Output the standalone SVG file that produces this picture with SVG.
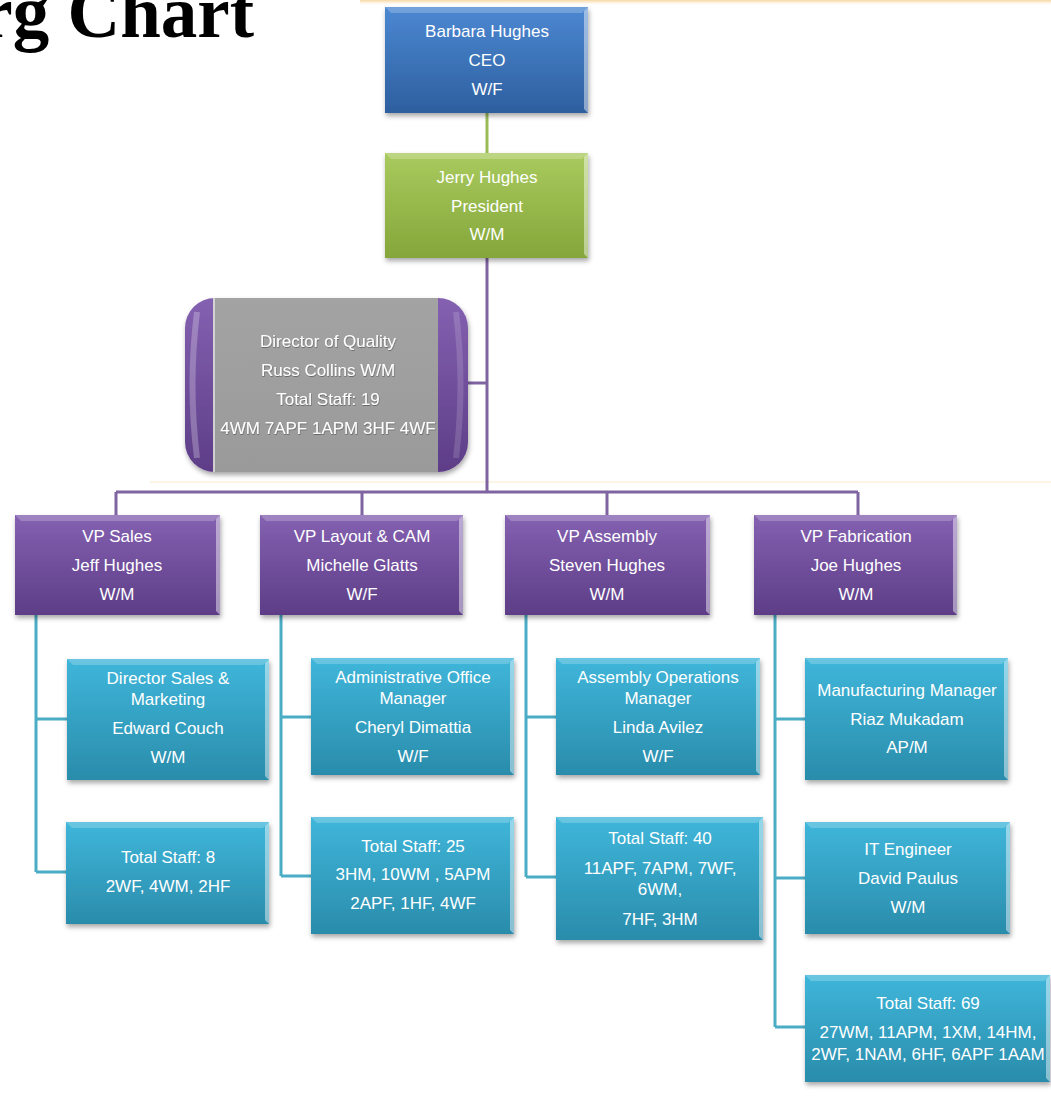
<svg xmlns="http://www.w3.org/2000/svg" width="1051" height="1112" viewBox="0 0 1051 1112">
<defs>
  <linearGradient id="gBlue" x1="0" y1="0" x2="0" y2="1"><stop offset="0" stop-color="#4c88d2"/><stop offset="1" stop-color="#2d5f9f"/></linearGradient>
  <linearGradient id="gGreen" x1="0" y1="0" x2="0" y2="1"><stop offset="0" stop-color="#a9ca5e"/><stop offset="1" stop-color="#84a63a"/></linearGradient>
  <linearGradient id="gPurple" x1="0" y1="0" x2="0" y2="1"><stop offset="0" stop-color="#8461b1"/><stop offset="1" stop-color="#5d3d87"/></linearGradient>
  <linearGradient id="gCyan" x1="0" y1="0" x2="0" y2="1"><stop offset="0" stop-color="#3fb6da"/><stop offset="1" stop-color="#2a8cab"/></linearGradient>
  <linearGradient id="gGray" x1="0" y1="0" x2="0" y2="1"><stop offset="0" stop-color="#a3a3a3"/><stop offset="1" stop-color="#9a9a9a"/></linearGradient>
  <linearGradient id="gStrip" x1="0" y1="0" x2="0" y2="1"><stop offset="0" stop-color="#f3c47a" stop-opacity="0.7"/><stop offset="1" stop-color="#fbe7c4" stop-opacity="0"/></linearGradient>
  <filter id="shadow" x="-10%" y="-10%" width="125%" height="130%">
    <feDropShadow dx="1" dy="3" stdDeviation="2.5" flood-color="#000" flood-opacity="0.35"/>
  </filter>
  <filter id="tshadow" x="-5%" y="-20%" width="110%" height="150%">
    <feDropShadow dx="0.5" dy="1" stdDeviation="0.6" flood-color="#000" flood-opacity="0.35"/>
  </filter>
</defs>
<style>
  .lbl { font-family: "Liberation Sans", Arial, sans-serif; font-size: 17px; fill: #ffffff; text-anchor: middle; }
  .dark { filter: url(#tshadow); }
  .title { font-family: "Liberation Serif", "Times New Roman", serif; font-weight: bold; font-size: 73px; fill: #000; text-anchor: end; }
  .bevT { fill: #ffffff; fill-opacity: 0.22; }
  .bevR { fill: #ffffff; fill-opacity: 0.45; }
  .cg { stroke: #9bbb59; stroke-width: 3; fill: none; }
  .cp { stroke: #8064a2; stroke-width: 3; fill: none; }
  .cc { stroke: #4bacc6; stroke-width: 3; fill: none; }
</style>
<rect x="0" y="0" width="1051" height="1112" fill="#ffffff"/>
<rect x="360" y="0" width="691" height="5" fill="url(#gStrip)"/>
<line x1="150" y1="482" x2="1051" y2="482" stroke="#fbf1dc" stroke-width="1.5"/>
<text class="title" x="254" y="37">rg Chart</text>

<g id="connectors">
  <path class="cg" d="M487,113 V153"/>
  <path class="cp" d="M487,258 V492 M466,383 H487 M116,492 H858 M116,492 V515 M362,492 V515 M607,492 V515 M858,492 V515"/>
  <path class="cc" d="M36,615 V872 M36,719 H67 M36,872 H66"/>
  <path class="cc" d="M281,615 V876 M281,717 H311 M281,876 H311"/>
  <path class="cc" d="M526,615 V877 M526,717 H556 M526,877 H556"/>
  <path class="cc" d="M775,615 V1027 M775,719 H805 M775,878 H805 M775,1027 H805"/>
</g>

<g id="ceo">
  <rect x="385" y="7" width="203" height="106" fill="url(#gBlue)" filter="url(#shadow)"/>
  <path class="bevT" d="M385,7 H588 L582,13 H391 Z"/>
  <path class="bevR" d="M588,7 V113 L584,109 V11 Z"/>
  <text class="lbl" x="487" y="37">Barbara Hughes</text>
  <text class="lbl" x="487" y="66">CEO</text>
  <text class="lbl" x="487" y="95">W/F</text>
</g>

<g id="president">
  <rect x="385" y="153" width="203" height="105" fill="url(#gGreen)" filter="url(#shadow)"/>
  <path class="bevT" d="M385,153 H588 L582,159 H391 Z"/>
  <path class="bevR" d="M588,153 V258 L584,254 V157 Z"/>
  <text class="lbl" x="487" y="183">Jerry Hughes</text>
  <text class="lbl" x="487" y="212">President</text>
  <text class="lbl" x="487" y="240">W/M</text>
</g>

<g id="dir-quality">
  <rect x="185" y="298" width="283" height="174" rx="30" ry="30" fill="url(#gPurple)" filter="url(#shadow)"/>
  <path d="M197,312 Q188,385 197,458" stroke="#ffffff" stroke-opacity="0.25" stroke-width="6" fill="none"/>
  <path d="M456,312 Q465,385 456,458" stroke="#ffffff" stroke-opacity="0.15" stroke-width="6" fill="none"/>
  <rect x="213" y="298" width="225" height="174" fill="url(#gGray)"/>
  <line x1="214" y1="298" x2="214" y2="472" stroke="#ffffff" stroke-opacity="0.7" stroke-width="1.5"/>
  <text class="lbl dark" x="328" y="347">Director of Quality</text>
  <text class="lbl dark" x="328" y="376">Russ Collins W/M</text>
  <text class="lbl dark" x="328" y="405">Total Staff:  19</text>
  <text class="lbl dark" x="328" y="434">4WM 7APF 1APM 3HF 4WF</text>
</g>

<g id="vp-sales">
  <rect x="15" y="515" width="205" height="100" fill="url(#gPurple)" filter="url(#shadow)"/>
  <path class="bevT" d="M15,515 H220 L214,521 H21 Z"/>
  <path class="bevR" d="M220,515 V615 L216,611 V519 Z"/>
  <text class="lbl" x="117" y="542">VP Sales</text>
  <text class="lbl" x="117" y="571">Jeff Hughes</text>
  <text class="lbl" x="117" y="600">W/M</text>
</g>
<g id="vp-layout">
  <rect x="260" y="515" width="203" height="100" fill="url(#gPurple)" filter="url(#shadow)"/>
  <path class="bevT" d="M260,515 H463 L457,521 H266 Z"/>
  <path class="bevR" d="M463,515 V615 L459,611 V519 Z"/>
  <text class="lbl" x="362" y="542">VP Layout &amp; CAM</text>
  <text class="lbl" x="362" y="571">Michelle Glatts</text>
  <text class="lbl" x="362" y="600">W/F</text>
</g>
<g id="vp-assembly">
  <rect x="505" y="515" width="205" height="100" fill="url(#gPurple)" filter="url(#shadow)"/>
  <path class="bevT" d="M505,515 H710 L704,521 H511 Z"/>
  <path class="bevR" d="M710,515 V615 L706,611 V519 Z"/>
  <text class="lbl" x="607" y="542">VP Assembly</text>
  <text class="lbl" x="607" y="571">Steven Hughes</text>
  <text class="lbl" x="607" y="600">W/M</text>
</g>
<g id="vp-fabrication">
  <rect x="754" y="515" width="203" height="100" fill="url(#gPurple)" filter="url(#shadow)"/>
  <path class="bevT" d="M754,515 H957 L951,521 H760 Z"/>
  <path class="bevR" d="M957,515 V615 L953,611 V519 Z"/>
  <text class="lbl" x="856" y="542">VP Fabrication</text>
  <text class="lbl" x="856" y="571">Joe Hughes</text>
  <text class="lbl" x="856" y="600">W/M</text>
</g>

<g id="dir-sales-marketing">
  <rect x="67" y="659" width="202" height="121" fill="url(#gCyan)" filter="url(#shadow)"/>
  <path class="bevT" d="M67,659 H269 L263,665 H73 Z"/>
  <path class="bevR" d="M269,659 V780 L265,776 V663 Z"/>
  <text class="lbl" x="168" y="684">Director Sales &amp;</text>
  <text class="lbl" x="168" y="705">Marketing</text>
  <text class="lbl" x="168" y="734">Edward Couch</text>
  <text class="lbl" x="168" y="763">W/M</text>
</g>
<g id="sales-staff">
  <rect x="66" y="822" width="203" height="102" fill="url(#gCyan)" filter="url(#shadow)"/>
  <path class="bevT" d="M66,822 H269 L263,828 H72 Z"/>
  <path class="bevR" d="M269,822 V924 L265,920 V826 Z"/>
  <text class="lbl" x="168" y="863">Total Staff: 8</text>
  <text class="lbl" x="168" y="892">2WF, 4WM, 2HF</text>
</g>

<g id="admin-office-manager">
  <rect x="311" y="658" width="203" height="117" fill="url(#gCyan)" filter="url(#shadow)"/>
  <path class="bevT" d="M311,658 H514 L508,664 H317 Z"/>
  <path class="bevR" d="M514,658 V775 L510,771 V662 Z"/>
  <text class="lbl" x="413" y="683">Administrative Office</text>
  <text class="lbl" x="413" y="704">Manager</text>
  <text class="lbl" x="413" y="733">Cheryl  Dimattia</text>
  <text class="lbl" x="413" y="762">W/F</text>
</g>
<g id="layout-staff">
  <rect x="311" y="817" width="203" height="117" fill="url(#gCyan)" filter="url(#shadow)"/>
  <path class="bevT" d="M311,817 H514 L508,823 H317 Z"/>
  <path class="bevR" d="M514,817 V934 L510,930 V821 Z"/>
  <text class="lbl" x="413" y="852">Total Staff: 25</text>
  <text class="lbl" x="413" y="880">3HM, 10WM , 5APM</text>
  <text class="lbl" x="413" y="909">2APF, 1HF, 4WF</text>
</g>

<g id="assembly-ops-manager">
  <rect x="556" y="658" width="204" height="117" fill="url(#gCyan)" filter="url(#shadow)"/>
  <path class="bevT" d="M556,658 H760 L754,664 H562 Z"/>
  <path class="bevR" d="M760,658 V775 L756,771 V662 Z"/>
  <text class="lbl" x="658" y="683">Assembly Operations</text>
  <text class="lbl" x="658" y="704">Manager</text>
  <text class="lbl" x="658" y="733">Linda Avilez</text>
  <text class="lbl" x="658" y="762">W/F</text>
</g>
<g id="assembly-staff">
  <rect x="556" y="817" width="207" height="123" fill="url(#gCyan)" filter="url(#shadow)"/>
  <path class="bevT" d="M556,817 H763 L757,823 H562 Z"/>
  <path class="bevR" d="M763,817 V940 L759,936 V821 Z"/>
  <text class="lbl" x="660" y="844">Total Staff: 40</text>
  <text class="lbl" x="660" y="874">11APF, 7APM, 7WF,</text>
  <text class="lbl" x="660" y="895">6WM,</text>
  <text class="lbl" x="660" y="925">7HF, 3HM</text>
</g>

<g id="manufacturing-manager">
  <rect x="805" y="658" width="203" height="122" fill="url(#gCyan)" filter="url(#shadow)"/>
  <path class="bevT" d="M805,658 H1008 L1002,664 H811 Z"/>
  <path class="bevR" d="M1008,658 V780 L1004,776 V662 Z"/>
  <text class="lbl" x="907" y="696">Manufacturing Manager</text>
  <text class="lbl" x="907" y="725">Riaz Mukadam</text>
  <text class="lbl" x="907" y="753">AP/M</text>
</g>
<g id="it-engineer">
  <rect x="805" y="822" width="205" height="112" fill="url(#gCyan)" filter="url(#shadow)"/>
  <path class="bevT" d="M805,822 H1010 L1004,828 H811 Z"/>
  <path class="bevR" d="M1010,822 V934 L1006,930 V826 Z"/>
  <text class="lbl" x="908" y="855">IT Engineer</text>
  <text class="lbl" x="908" y="884">David Paulus</text>
  <text class="lbl" x="908" y="913">W/M</text>
</g>
<g id="fabrication-staff">
  <rect x="805" y="975" width="245" height="107" fill="url(#gCyan)" filter="url(#shadow)"/>
  <path class="bevT" d="M805,975 H1050 L1044,981 H811 Z"/>
  <path class="bevR" d="M1050,975 V1082 L1046,1078 V979 Z"/>
  <text class="lbl" x="928" y="1009">Total Staff: 69</text>
  <text class="lbl" x="928" y="1038">27WM, 11APM, 1XM, 14HM,</text>
  <text class="lbl" x="928" y="1060">2WF, 1NAM, 6HF, 6APF 1AAM</text>
</g>
</svg>
